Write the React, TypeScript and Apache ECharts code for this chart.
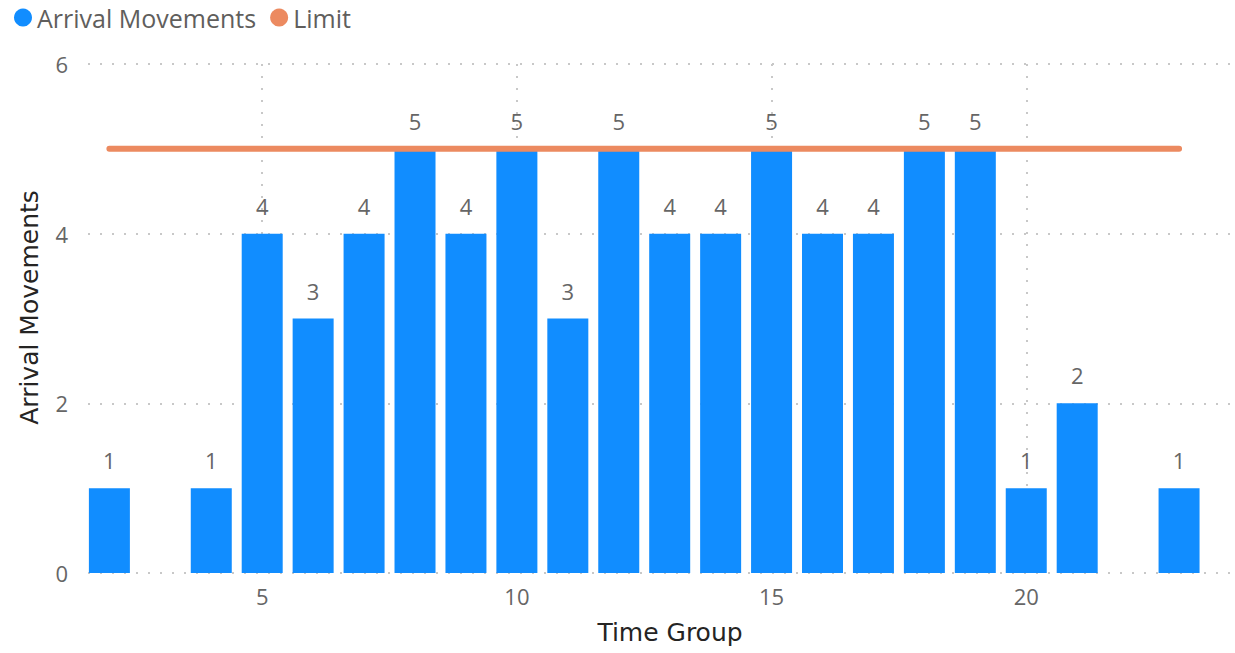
import React, { useEffect, useRef } from "react";
import * as echarts from "echarts";

const timeGroups = [2, 4, 5, 6, 7, 8, 9, 10, 11, 12, 13, 14, 15, 16, 17, 18, 19, 20, 21, 23];
const arrivals = [1, 1, 4, 3, 4, 5, 4, 5, 3, 5, 4, 4, 5, 4, 4, 5, 5, 1, 2, 1];
const limits = [5, 5, 5, 5, 5, 5, 5, 5, 5, 5, 5, 5, 5, 5, 5, 5, 5, 5, 5, 5];
const xTicks = [5, 10, 15, 20];

const FONT = "'Segoe UI', 'Open Sans', sans-serif";
const TITLE_FONT = "'DejaVu Sans', sans-serif";

export default function App() {
  const ref = useRef<HTMLDivElement>(null);
  useEffect(() => {
    if (!ref.current) return;
    const chart = echarts.init(ref.current, undefined, { renderer: "svg" });
    const grid = { color: "#c8c8c8", width: 2, type: [2, 10] as any };
    chart.setOption({
      animation: false,
      textStyle: { fontFamily: FONT },
      legend: {
        left: 9,
        top: 0,
        itemGap: 14,
        itemWidth: 18,
        itemHeight: 18,
        icon: "circle",
        textStyle: { color: "#605E5C", fontSize: 25, fontFamily: FONT },
        data: ["Arrival Movements", "Limit"],
      },
      grid: { left: 88, right: 5, top: 64, bottom: 80 },
      xAxis: {
        type: "value",
        min: 1.58,
        max: 24,
        name: "Time Group",
        nameLocation: "middle",
        nameGap: 47,
        nameTextStyle: {
          color: "#252423",
          fontSize: 25,
          fontFamily: TITLE_FONT,
          padding: [0, 0, 0, 22],
        },
        axisLine: { show: false },
        axisTick: { show: false, customValues: xTicks },
        axisLabel: { customValues: xTicks, color: "#666666", fontSize: 22, margin: 12 },
        splitLine: { show: true, lineStyle: grid },
      },
      yAxis: {
        type: "value",
        min: 0,
        max: 6,
        interval: 2,
        name: "Arrival Movements",
        nameLocation: "middle",
        nameGap: 46,
        nameTextStyle: {
          color: "#252423",
          fontSize: 25,
          fontFamily: TITLE_FONT,
          padding: [0, 0, 0, 22],
        },
        axisLine: { show: false },
        axisTick: { show: false },
        axisLabel: { color: "#666666", fontSize: 22, margin: 20 },
        splitLine: { show: true, lineStyle: grid },
      },
      series: [
        {
          name: "Arrival Movements",
          type: "bar",
          barWidth: 41,
          itemStyle: { color: "#118DFF" },
          label: {
            show: true,
            position: "top",
            distance: 17,
            color: "#666666",
            fontSize: 22,
            fontFamily: FONT,
          },
          data: timeGroups.map((t, i) => [t, arrivals[i]]),
          z: 2,
        },
        {
          name: "Limit",
          type: "line",
          showSymbol: false,
          symbol: "none",
          itemStyle: { color: "#EC8A60" },
          lineStyle: { color: "#EC8A60", width: 6, cap: "round" },
          data: timeGroups.map((t, i) => [t, limits[i]]),
          z: 3,
        },
      ],
    });
    return () => chart.dispose();
  }, []);
  return <div ref={ref} style={{ width: 1235, height: 653, position: "absolute", left: 0, top: 0 }} />;
}
